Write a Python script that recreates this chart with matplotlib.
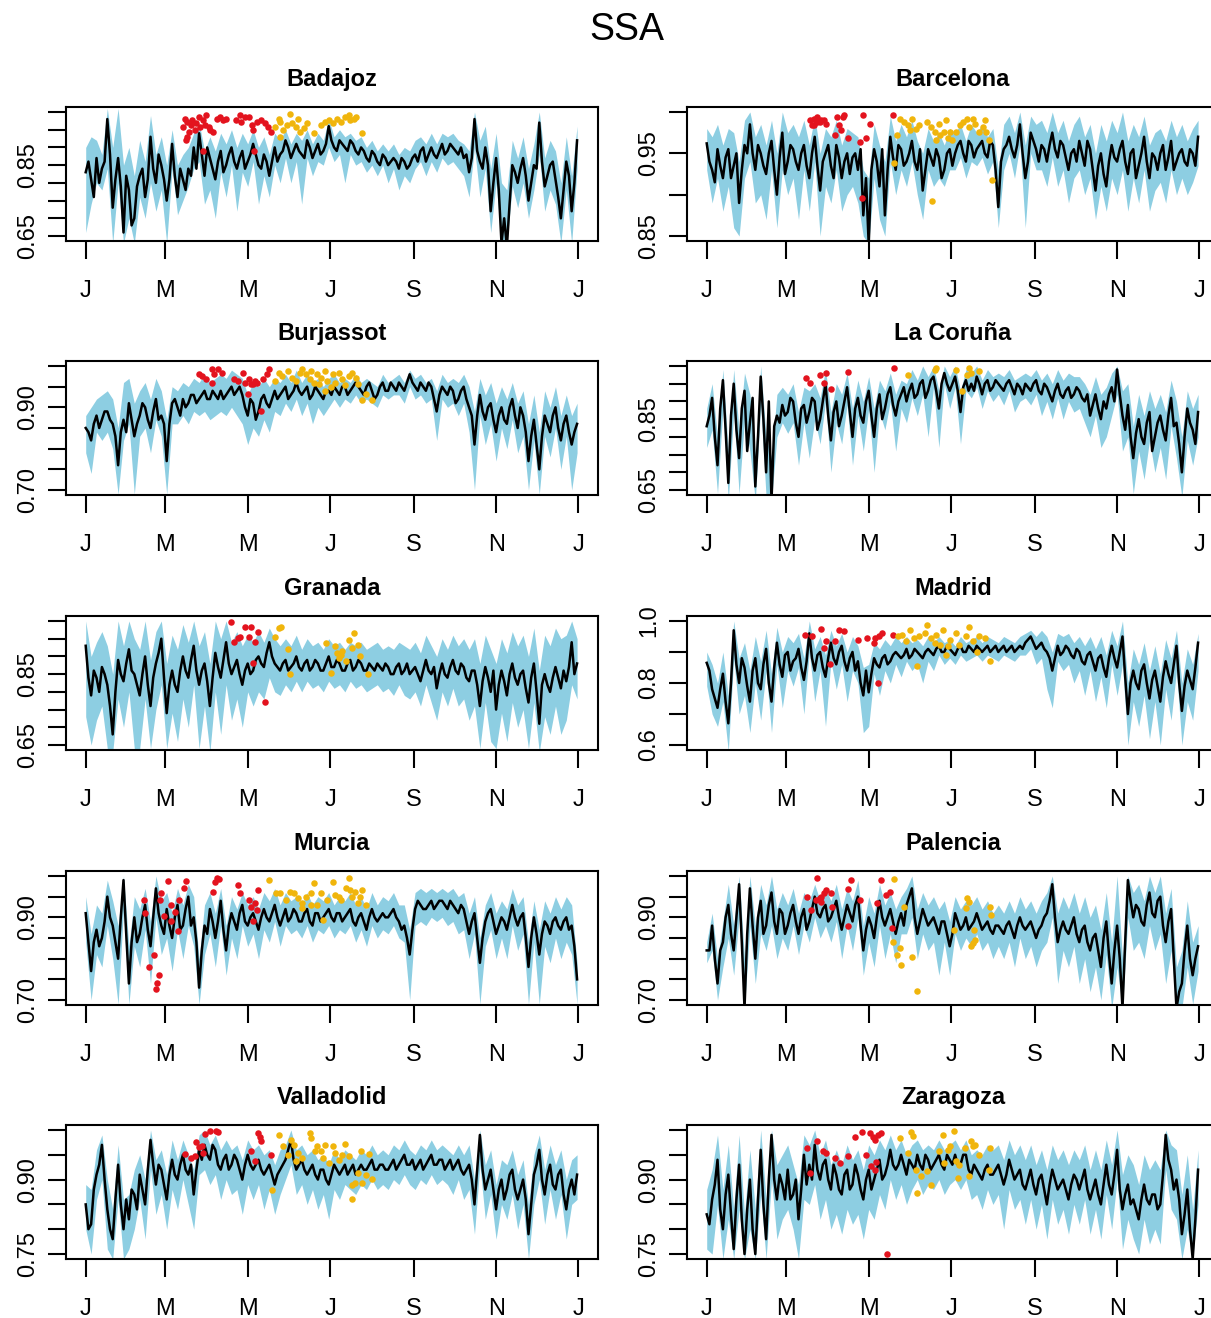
import matplotlib
matplotlib.use("Agg")
import matplotlib.pyplot as plt

plt.rcParams["font.family"] = ["Liberation Sans", "DejaVu Sans"]

# Sample days: the band and the main line points every fourth day,
# with the line also sampled on the days in between
DAY = list(range(1, 366, 4))
DAY_MID = list(range(3, 364, 4))
MONTH_TICKS = [1, 60, 121, 182, 244, 305, 366]
MONTH_LABELS = ["J", "M", "M", "J", "S", "N", "J"]

BAND_COLOR = "#8DCEE2"
RED = "#E3131E"
ORANGE = "#F0B50C"

# ---------------- Badajoz ----------------
BADAJOZ_MEAN = [
    0.83, 0.81, 0.87, 0.84, 0.98, 0.73, 0.87, 0.66,
    0.78, 0.70, 0.82, 0.76, 0.93, 0.80, 0.85, 0.75,
    0.91, 0.76, 0.81, 0.84, 0.90, 0.94, 0.82, 0.87,
    0.81, 0.89, 0.85, 0.90, 0.84, 0.89, 0.86, 0.91,
    0.85, 0.88, 0.82, 0.90, 0.88, 0.92, 0.87, 0.91,
    0.88, 0.92, 0.87, 0.91, 0.89, 0.96, 0.90, 0.92,
    0.90, 0.92, 0.89, 0.90, 0.87, 0.89, 0.86, 0.88,
    0.85, 0.87, 0.84, 0.86, 0.85, 0.88, 0.89, 0.86,
    0.90, 0.87, 0.91, 0.89, 0.90, 0.88, 0.87, 0.83,
    0.98, 0.86, 0.90, 0.72, 0.87, 0.63, 0.62, 0.85,
    0.80, 0.87, 0.75, 0.85, 0.97, 0.79, 0.85, 0.81,
    0.70, 0.86, 0.72, 0.92]
BADAJOZ_MEAN_MID = [
    0.86, 0.76, 0.80, 0.86, 0.88, 0.81, 0.79, 0.82,
    0.68, 0.79, 0.84, 0.81, 0.84, 0.88, 0.81, 0.81,
    0.82, 0.84, 0.78, 0.82, 0.84, 0.88, 0.90, 0.84,
    0.86, 0.83, 0.88, 0.86, 0.87, 0.84, 0.88, 0.88,
    0.84, 0.86, 0.86, 0.86, 0.89, 0.90, 0.89, 0.89,
    0.87, 0.90, 0.89, 0.88, 0.91, 0.92, 0.89, 0.91,
    0.89, 0.91, 0.88, 0.89, 0.86, 0.88, 0.85, 0.87,
    0.86, 0.86, 0.87, 0.84, 0.87, 0.86, 0.90, 0.88,
    0.88, 0.89, 0.88, 0.91, 0.89, 0.90, 0.88, 0.87,
    0.89, 0.84, 0.85, 0.80, 0.78, 0.70, 0.74, 0.83,
    0.84, 0.82, 0.80, 0.84, 0.86, 0.82, 0.86, 0.76,
    0.78, 0.82, 0.80]
BADAJOZ_LO = [
    0.66, 0.74, 0.80, 0.78, 0.84, 0.63, 0.80, 0.63,
    0.70, 0.63, 0.76, 0.70, 0.80, 0.72, 0.78, 0.63,
    0.84, 0.71, 0.75, 0.79, 0.84, 0.86, 0.74, 0.78,
    0.70, 0.83, 0.76, 0.85, 0.72, 0.83, 0.79, 0.86,
    0.74, 0.82, 0.76, 0.85, 0.80, 0.87, 0.80, 0.86,
    0.74, 0.87, 0.82, 0.86, 0.85, 0.90, 0.86, 0.88,
    0.80, 0.88, 0.85, 0.86, 0.83, 0.85, 0.82, 0.85,
    0.80, 0.84, 0.78, 0.82, 0.80, 0.84, 0.86, 0.82,
    0.86, 0.83, 0.87, 0.85, 0.86, 0.84, 0.82, 0.76,
    0.90, 0.76, 0.84, 0.66, 0.80, 0.63, 0.63, 0.79,
    0.73, 0.80, 0.70, 0.78, 0.88, 0.72, 0.78, 0.74,
    0.63, 0.78, 0.63, 0.84]
BADAJOZ_HI = [
    0.90, 0.93, 0.92, 0.88, 1.01, 0.90, 1.01, 0.85,
    0.90, 0.82, 0.92, 0.86, 0.99, 0.88, 0.93, 0.85,
    0.95, 0.85, 0.88, 0.90, 0.94, 0.97, 0.89, 0.93,
    0.89, 0.94, 0.91, 0.95, 0.90, 0.94, 0.91, 0.95,
    0.90, 0.93, 0.88, 0.94, 0.92, 0.95, 0.91, 0.94,
    0.92, 0.95, 0.91, 0.94, 0.92, 0.98, 0.93, 0.95,
    0.93, 0.94, 0.92, 0.93, 0.90, 0.92, 0.89, 0.91,
    0.89, 0.91, 0.88, 0.90, 0.89, 0.92, 0.93, 0.91,
    0.94, 0.91, 0.94, 0.93, 0.94, 0.92, 0.91, 0.89,
    1.00, 0.92, 0.96, 0.84, 0.94, 0.80, 0.78, 0.92,
    0.87, 0.93, 0.84, 0.91, 1.00, 0.87, 0.92, 0.89,
    0.80, 0.93, 0.82, 0.96]
BADAJOZ_RED = [
    (73, 0.958), (74.6, 0.981), (76, 0.972), (75.4, 0.92), (77.5, 0.944),
    (79, 0.963), (80, 0.977), (82, 0.949), (83, 0.968), (85, 0.986),
    (86, 0.958), (87.6, 0.977), (89, 0.963), (90, 0.991), (92, 0.958),
    (93, 0.949), (95, 0.944), (98, 0.981), (100.5, 0.986), (103, 0.977),
    (105, 0.979), (112, 0.977), (115, 0.991), (116, 0.972), (119, 0.986),
    (122, 0.986), (124, 0.963), (125, 0.949), (128, 0.972), (131, 0.977),
    (134, 0.968), (136, 0.958), (138, 0.944), (88, 0.89), (76, 0.93),
    (126, 0.89)]
BADAJOZ_ORANGE = [
    (141, 0.958), (144, 0.981), (145, 0.972), (147, 0.949), (150, 0.963),
    (152.5, 0.995), (154, 0.968), (157, 0.958), (158, 0.981), (160, 0.944),
    (163, 0.954), (165, 0.968), (145, 0.93), (175.5, 0.963), (178, 0.972),
    (181, 0.977), (184, 0.968), (187, 0.981), (190, 0.972), (193, 0.986),
    (196, 0.991), (197, 0.977), (200, 0.981), (201.5, 0.986), (206, 0.94),
    (170, 0.94)]

# ---------------- Barcelona ----------------
BARCELONA_MEAN = [
    0.962, 0.93, 0.955, 0.92, 0.955, 0.935, 0.89, 0.96,
    0.985, 0.93, 0.95, 0.925, 0.965, 0.90, 0.975, 0.94,
    0.955, 0.93, 0.96, 0.92, 0.97, 0.905, 0.95, 0.935,
    0.96, 0.92, 0.95, 0.945, 0.93, 0.875, 0.84, 0.955,
    0.91, 0.875, 0.97, 0.93, 0.955, 0.94, 0.965, 0.93,
    0.905, 0.955, 0.935, 0.945, 0.93, 0.955, 0.95, 0.965,
    0.94, 0.96, 0.955, 0.965, 0.945, 0.96, 0.885, 0.955,
    0.97, 0.945, 0.985, 0.92, 0.975, 0.955, 0.96, 0.94,
    0.975, 0.945, 0.96, 0.93, 0.955, 0.965, 0.935, 0.955,
    0.905, 0.95, 0.91, 0.96, 0.94, 0.965, 0.925, 0.955,
    0.935, 0.97, 0.92, 0.945, 0.95, 0.93, 0.965, 0.94,
    0.955, 0.935, 0.95, 0.97]
BARCELONA_MEAN_MID = [
    0.94, 0.915, 0.935, 0.945, 0.92, 0.95, 0.93, 0.95,
    0.95, 0.96, 0.935, 0.95, 0.93, 0.945, 0.925, 0.96,
    0.94, 0.95, 0.935, 0.95, 0.935, 0.94, 0.96, 0.92,
    0.945, 0.94, 0.925, 0.95, 0.955, 0.92, 0.93, 0.94,
    0.955, 0.93, 0.945, 0.96, 0.935, 0.95, 0.94, 0.955,
    0.93, 0.945, 0.955, 0.92, 0.95, 0.935, 0.96, 0.95,
    0.965, 0.945, 0.96, 0.95, 0.965, 0.93, 0.94, 0.96,
    0.955, 0.96, 0.95, 0.94, 0.965, 0.94, 0.955, 0.96,
    0.955, 0.965, 0.945, 0.95, 0.94, 0.95, 0.965, 0.93,
    0.935, 0.925, 0.94, 0.945, 0.955, 0.94, 0.95, 0.92,
    0.95, 0.94, 0.95, 0.93, 0.96, 0.945, 0.93, 0.95,
    0.94, 0.955, 0.935]
BARCELONA_LO = [
    0.93, 0.89, 0.92, 0.88, 0.91, 0.86, 0.85, 0.92,
    0.94, 0.89, 0.90, 0.87, 0.93, 0.86, 0.93, 0.90,
    0.92, 0.87, 0.93, 0.88, 0.94, 0.85, 0.91, 0.89,
    0.93, 0.88, 0.90, 0.91, 0.89, 0.85, 0.84, 0.92,
    0.87, 0.85, 0.94, 0.90, 0.93, 0.91, 0.94, 0.90,
    0.87, 0.93, 0.91, 0.92, 0.91, 0.93, 0.93, 0.945,
    0.92, 0.94, 0.935, 0.945, 0.925, 0.94, 0.86, 0.93,
    0.95, 0.92, 0.96, 0.86, 0.95, 0.93, 0.93, 0.91,
    0.945, 0.91, 0.93, 0.89, 0.92, 0.93, 0.90, 0.92,
    0.87, 0.91, 0.88, 0.92, 0.90, 0.93, 0.88, 0.92,
    0.89, 0.93, 0.88, 0.905, 0.915, 0.89, 0.93, 0.90,
    0.92, 0.90, 0.915, 0.935]
BARCELONA_HI = [
    0.98, 0.97, 0.985, 0.96, 0.98, 0.975, 0.94, 0.99,
    1.0, 0.97, 0.985, 0.96, 0.99, 0.95, 1.0, 0.975,
    0.985, 0.97, 0.99, 0.96, 0.995, 0.95, 0.98, 0.97,
    0.99, 0.96, 0.98, 0.975, 0.97, 0.93, 0.92, 0.985,
    0.96, 0.94, 0.995, 0.965, 0.985, 0.97, 0.99, 0.965,
    0.95, 0.98, 0.965, 0.975, 0.96, 0.98, 0.975, 0.985,
    0.965, 0.985, 0.975, 0.985, 0.97, 0.98, 0.93, 0.985,
    0.995, 0.975, 1.0, 0.96, 0.995, 0.985, 0.99, 0.975,
    1.0, 0.975, 0.99, 0.965, 0.985, 0.995, 0.97, 0.985,
    0.95, 0.985, 0.965, 0.99, 0.975, 1.0, 0.965, 0.985,
    0.97, 0.995, 0.96, 0.975, 0.98, 0.965, 0.99, 0.97,
    0.985, 0.965, 0.98, 0.99]
BARCELONA_RED = [
    (77.7, 0.99), (79, 0.984), (80.5, 0.992), (83, 0.994), (85, 0.988),
    (87.6, 0.99), (89, 0.986), (80.5, 0.984), (96, 0.972), (97.6, 0.994),
    (99, 0.984), (100.4, 0.978), (101.8, 0.994), (103, 0.996), (106, 0.968),
    (114.6, 0.964), (116, 0.896), (117, 0.996), (119, 0.968), (121.7, 0.986),
    (138.7, 0.996), (83, 0.988), (86, 0.99)]
BARCELONA_ORANGE = [
    (141.6, 0.972), (144.4, 0.992), (147, 0.988), (150, 0.984), (151.5, 0.978),
    (153, 0.992), (155.8, 0.98), (158.6, 0.984), (164, 0.988), (167, 0.982),
    (170, 0.976), (172.8, 0.986), (174, 0.972), (177, 0.976), (178.5, 0.99),
    (180, 0.968), (181, 0.976), (183, 0.966), (185.6, 0.976), (188.4, 0.984),
    (191, 0.988), (194, 0.992), (195.5, 0.982), (198, 0.992), (199.8, 0.986),
    (202.6, 0.976), (205.5, 0.982), (207, 0.99), (208, 0.976), (210, 0.966),
    (168, 0.892), (212.6, 0.918), (171, 0.966), (140, 0.938)]

# ---------------- Burjassot ----------------
BURJASSOT_MEAN = [
    0.85, 0.82, 0.88, 0.87, 0.89, 0.86, 0.76, 0.87,
    0.91, 0.83, 0.88, 0.90, 0.85, 0.92, 0.88, 0.77,
    0.91, 0.90, 0.92, 0.91, 0.93, 0.92, 0.94, 0.92,
    0.93, 0.94, 0.93, 0.95, 0.94, 0.93, 0.88, 0.91,
    0.89, 0.93, 0.90, 0.94, 0.93, 0.95, 0.93, 0.96,
    0.93, 0.95, 0.93, 0.94, 0.92, 0.94, 0.95, 0.93,
    0.95, 0.94, 0.96, 0.94, 0.95, 0.94, 0.93, 0.96,
    0.94, 0.95, 0.96, 0.94, 0.98, 0.95, 0.96, 0.94,
    0.95, 0.89, 0.95, 0.93, 0.94, 0.92, 0.95, 0.90,
    0.81, 0.93, 0.87, 0.91, 0.84, 0.90, 0.86, 0.92,
    0.85, 0.88, 0.77, 0.87, 0.75, 0.88, 0.84, 0.90,
    0.82, 0.88, 0.81, 0.86]
BURJASSOT_MEAN_MID = [
    0.84, 0.86, 0.85, 0.89, 0.87, 0.83, 0.84, 0.84,
    0.87, 0.86, 0.91, 0.87, 0.89, 0.87, 0.86, 0.86,
    0.92, 0.88, 0.90, 0.93, 0.91, 0.93, 0.92, 0.94,
    0.92, 0.92, 0.94, 0.93, 0.95, 0.90, 0.92, 0.87,
    0.92, 0.91, 0.92, 0.92, 0.94, 0.92, 0.94, 0.94,
    0.94, 0.92, 0.95, 0.93, 0.94, 0.93, 0.94, 0.95,
    0.93, 0.95, 0.95, 0.93, 0.96, 0.92, 0.95, 0.94,
    0.96, 0.94, 0.95, 0.96, 0.96, 0.94, 0.95, 0.96,
    0.92, 0.93, 0.94, 0.95, 0.91, 0.94, 0.92, 0.88,
    0.88, 0.89, 0.90, 0.87, 0.88, 0.87, 0.90, 0.88,
    0.90, 0.84, 0.83, 0.81, 0.83, 0.86, 0.88, 0.85,
    0.86, 0.84, 0.84]
BURJASSOT_LO = [
    0.79, 0.74, 0.84, 0.82, 0.84, 0.80, 0.69, 0.82,
    0.86, 0.69, 0.83, 0.85, 0.79, 0.87, 0.83, 0.69,
    0.86, 0.86, 0.88, 0.86, 0.89, 0.88, 0.89, 0.87,
    0.88, 0.89, 0.88, 0.90, 0.88, 0.86, 0.81, 0.85,
    0.83, 0.87, 0.84, 0.89, 0.88, 0.91, 0.89, 0.92,
    0.88, 0.91, 0.86, 0.90, 0.88, 0.90, 0.92, 0.90,
    0.92, 0.91, 0.93, 0.91, 0.92, 0.91, 0.90, 0.93,
    0.92, 0.93, 0.93, 0.91, 0.95, 0.92, 0.93, 0.91,
    0.92, 0.82, 0.92, 0.90, 0.91, 0.88, 0.91, 0.84,
    0.70, 0.88, 0.81, 0.86, 0.77, 0.85, 0.80, 0.87,
    0.79, 0.83, 0.70, 0.82, 0.69, 0.83, 0.78, 0.85,
    0.75, 0.83, 0.70, 0.79]
BURJASSOT_HI = [
    0.88, 0.90, 0.92, 0.93, 0.94, 0.92, 0.85, 0.96,
    0.97, 0.91, 0.94, 0.96, 0.92, 0.97, 0.94, 0.87,
    0.95, 0.94, 0.96, 0.95, 0.97, 0.96, 0.98, 0.96,
    0.97, 0.98, 0.97, 0.99, 0.98, 0.97, 0.93, 0.96,
    0.95, 0.97, 0.95, 0.97, 0.96, 0.98, 0.96, 0.99,
    0.96, 0.98, 0.96, 0.97, 0.95, 0.97, 0.98, 0.96,
    0.97, 0.96, 0.98, 0.96, 0.97, 0.96, 0.95, 0.98,
    0.96, 0.97, 0.98, 0.96, 0.99, 0.97, 0.98, 0.96,
    0.97, 0.94, 0.98, 0.96, 0.97, 0.96, 0.98, 0.95,
    0.89, 0.97, 0.93, 0.96, 0.91, 0.95, 0.92, 0.96,
    0.91, 0.94, 0.86, 0.93, 0.84, 0.94, 0.90, 0.95,
    0.88, 0.93, 0.88, 0.91]
BURJASSOT_RED = [
    (84.7, 0.98), (87.5, 0.976), (90.4, 0.968), (94.8, 0.992), (96, 0.98),
    (99, 0.992), (102, 0.984), (94.8, 0.96), (110.6, 0.968), (113.5, 0.964),
    (117.8, 0.984), (119, 0.96), (122, 0.968), (123.6, 0.957), (126.5, 0.964),
    (128, 0.96), (131, 0.89), (132, 0.968), (135, 0.98), (136.6, 0.992),
    (121, 0.933), (125, 0.957)]
BURJASSOT_ORANGE = [
    (141, 0.964), (144, 0.984), (146.7, 0.976), (151, 0.988), (154, 0.972),
    (157, 0.964), (160, 0.984), (161, 0.992), (164, 0.98), (167, 0.968),
    (168, 0.988), (170, 0.96), (172.7, 0.98), (174, 0.957), (175.5, 0.972),
    (178, 0.988), (180, 0.964), (183, 0.949), (184, 0.98), (185.6, 0.96),
    (188.5, 0.984), (191, 0.968), (193, 0.953), (196, 0.976), (198.6, 0.984),
    (201.5, 0.972), (203, 0.957), (206, 0.917), (209, 0.933), (213, 0.917),
    (178, 0.94)]

# ---------------- La Coruña ----------------
CORUNA_MEAN = [
    0.83, 0.91, 0.72, 0.96, 0.67, 0.95, 0.74, 0.93,
    0.84, 0.66, 0.97, 0.70, 0.62, 0.86, 0.89, 0.87,
    0.90, 0.80, 0.89, 0.87, 0.90, 0.85, 0.95, 0.79,
    0.90, 0.86, 0.94, 0.80, 0.91, 0.84, 0.93, 0.80,
    0.92, 0.88, 0.94, 0.86, 0.92, 0.90, 0.95, 0.92,
    0.96, 0.93, 0.97, 0.88, 0.98, 0.93, 0.97, 0.87,
    0.96, 0.95, 0.97, 0.92, 0.96, 0.94, 0.95, 0.93,
    0.96, 0.92, 0.94, 0.95, 0.93, 0.96, 0.92, 0.94,
    0.90, 0.95, 0.91, 0.94, 0.92, 0.93, 0.90, 0.86,
    0.92, 0.85, 0.88, 0.94, 0.99, 0.86, 0.89, 0.74,
    0.85, 0.78, 0.87, 0.80, 0.86, 0.79, 0.91, 0.84,
    0.70, 0.88, 0.82, 0.87]
CORUNA_MEAN_MID = [
    0.86, 0.80, 0.88, 0.82, 0.86, 0.82, 0.88, 0.76,
    0.91, 0.80, 0.85, 0.90, 0.83, 0.84, 0.86, 0.91,
    0.84, 0.88, 0.84, 0.91, 0.82, 0.90, 0.86, 0.87,
    0.83, 0.90, 0.87, 0.88, 0.86, 0.90, 0.86, 0.88,
    0.85, 0.92, 0.89, 0.90, 0.94, 0.93, 0.91, 0.95,
    0.91, 0.96, 0.93, 0.95, 0.95, 0.95, 0.93, 0.94,
    0.93, 0.93, 0.95, 0.95, 0.93, 0.96, 0.94, 0.95,
    0.94, 0.95, 0.92, 0.94, 0.95, 0.93, 0.95, 0.92,
    0.93, 0.92, 0.93, 0.91, 0.94, 0.91, 0.92, 0.89,
    0.88, 0.90, 0.92, 0.90, 0.92, 0.82, 0.80, 0.81,
    0.80, 0.84, 0.76, 0.84, 0.82, 0.86, 0.83, 0.78,
    0.80, 0.84, 0.78]
CORUNA_LO = [
    0.77, 0.82, 0.64, 0.88, 0.62, 0.87, 0.64, 0.85,
    0.76, 0.62, 0.89, 0.63, 0.62, 0.80, 0.84, 0.81,
    0.84, 0.72, 0.84, 0.74, 0.85, 0.78, 0.90, 0.70,
    0.84, 0.78, 0.89, 0.72, 0.86, 0.76, 0.88, 0.70,
    0.87, 0.82, 0.90, 0.76, 0.88, 0.84, 0.91, 0.86,
    0.92, 0.80, 0.94, 0.77, 0.95, 0.88, 0.94, 0.78,
    0.93, 0.91, 0.94, 0.88, 0.93, 0.90, 0.92, 0.89,
    0.93, 0.87, 0.90, 0.91, 0.89, 0.92, 0.86, 0.90,
    0.85, 0.91, 0.85, 0.90, 0.87, 0.88, 0.84, 0.80,
    0.86, 0.77, 0.80, 0.86, 0.92, 0.76, 0.80, 0.64,
    0.76, 0.68, 0.79, 0.70, 0.77, 0.68, 0.83, 0.74,
    0.63, 0.79, 0.72, 0.80]
CORUNA_HI = [
    0.88, 0.95, 0.80, 0.99, 0.76, 0.99, 0.82, 0.98,
    0.92, 0.75, 1.0, 0.80, 0.74, 0.92, 0.94, 0.92,
    0.95, 0.87, 0.94, 0.93, 0.95, 0.91, 0.99, 0.87,
    0.95, 0.92, 0.98, 0.88, 0.96, 0.90, 0.97, 0.88,
    0.96, 0.93, 0.98, 0.92, 0.96, 0.95, 0.99, 0.96,
    1.0, 0.97, 1.0, 0.93, 1.0, 0.97, 1.0, 0.93,
    0.99, 0.98, 1.0, 0.96, 0.99, 0.97, 0.98, 0.97,
    0.99, 0.96, 0.97, 0.98, 0.97, 0.99, 0.96, 0.98,
    0.95, 0.99, 0.96, 0.98, 0.97, 0.97, 0.95, 0.92,
    0.97, 0.92, 0.94, 0.98, 1.0, 0.93, 0.95, 0.83,
    0.92, 0.86, 0.93, 0.88, 0.92, 0.87, 0.96, 0.90,
    0.80, 0.93, 0.88, 0.92]
CORUNA_RED = [
    (74.8, 0.966), (84.8, 0.975), (89, 0.98), (88, 0.952), (93, 0.935),
    (106, 0.982), (139.6, 0.994), (77.7, 0.952)]
CORUNA_ORANGE = [
    (150, 0.975), (170, 0.989), (171, 0.994), (185.6, 0.989), (190, 0.93),
    (195.5, 0.994), (197, 0.98), (202.6, 0.987), (194, 0.975)]

# ---------------- Granada ----------------
GRANADA_MEAN = [
    0.93, 0.79, 0.84, 0.87, 0.82, 0.68, 0.89, 0.83,
    0.92, 0.85, 0.79, 0.90, 0.76, 0.88, 0.95, 0.74,
    0.86, 0.80, 0.90, 0.84, 0.93, 0.82, 0.88, 0.76,
    0.91, 0.84, 0.94, 0.85, 0.89, 0.82, 0.88, 0.86,
    0.90, 0.87, 0.94, 0.88, 0.86, 0.89, 0.87, 0.90,
    0.86, 0.89, 0.87, 0.88, 0.86, 0.90, 0.87, 0.88,
    0.86, 0.89, 0.87, 0.88, 0.86, 0.87, 0.88, 0.86,
    0.87, 0.85, 0.88, 0.86, 0.85, 0.87, 0.83, 0.89,
    0.85, 0.81, 0.88, 0.84, 0.89, 0.85, 0.87, 0.83,
    0.86, 0.76, 0.87, 0.80, 0.75, 0.86, 0.79, 0.88,
    0.82, 0.86, 0.77, 0.88, 0.71, 0.85, 0.80, 0.87,
    0.81, 0.83, 0.94, 0.88]
GRANADA_MEAN_MID = [
    0.84, 0.86, 0.80, 0.85, 0.76, 0.80, 0.85, 0.88,
    0.86, 0.82, 0.85, 0.82, 0.84, 0.91, 0.84, 0.82,
    0.82, 0.86, 0.86, 0.89, 0.86, 0.86, 0.83, 0.84,
    0.87, 0.89, 0.88, 0.87, 0.85, 0.86, 0.85, 0.89,
    0.88, 0.91, 0.90, 0.87, 0.88, 0.86, 0.88, 0.87,
    0.88, 0.86, 0.89, 0.86, 0.88, 0.87, 0.89, 0.86,
    0.88, 0.86, 0.89, 0.86, 0.88, 0.86, 0.87, 0.88,
    0.85, 0.87, 0.85, 0.88, 0.86, 0.85, 0.86, 0.86,
    0.87, 0.85, 0.85, 0.87, 0.86, 0.88, 0.84, 0.86,
    0.82, 0.83, 0.84, 0.86, 0.82, 0.83, 0.85, 0.84,
    0.85, 0.81, 0.84, 0.80, 0.82, 0.82, 0.84, 0.84,
    0.86, 0.87, 0.85]
GRANADA_LO = [
    0.73, 0.65, 0.72, 0.76, 0.64, 0.63, 0.78, 0.70,
    0.80, 0.64, 0.64, 0.78, 0.64, 0.75, 0.82, 0.64,
    0.74, 0.66, 0.78, 0.70, 0.82, 0.64, 0.76, 0.63,
    0.80, 0.68, 0.82, 0.72, 0.78, 0.70, 0.80, 0.76,
    0.80, 0.78, 0.84, 0.80, 0.79, 0.82, 0.80, 0.83,
    0.80, 0.83, 0.81, 0.82, 0.80, 0.83, 0.81, 0.82,
    0.80, 0.83, 0.81, 0.82, 0.80, 0.81, 0.82, 0.80,
    0.81, 0.79, 0.82, 0.79, 0.78, 0.80, 0.76, 0.82,
    0.77, 0.72, 0.80, 0.76, 0.81, 0.76, 0.78, 0.72,
    0.76, 0.64, 0.77, 0.66, 0.64, 0.74, 0.66, 0.77,
    0.70, 0.75, 0.64, 0.77, 0.63, 0.73, 0.68, 0.76,
    0.68, 0.72, 0.82, 0.78]
GRANADA_HI = [
    1.0, 0.90, 0.94, 0.97, 0.93, 0.85, 1.0, 0.93,
    1.0, 0.95, 0.92, 1.0, 0.89, 0.97, 1.0, 0.88,
    0.96, 0.92, 0.99, 0.94, 1.0, 0.93, 0.97, 0.88,
    1.0, 0.95, 1.0, 0.94, 0.97, 0.93, 0.96, 0.94,
    0.97, 0.94, 0.98, 0.95, 0.93, 0.95, 0.93, 0.96,
    0.92, 0.95, 0.93, 0.94, 0.92, 0.95, 0.93, 0.94,
    0.92, 0.94, 0.93, 0.94, 0.92, 0.93, 0.94, 0.92,
    0.93, 0.92, 0.94, 0.93, 0.92, 0.94, 0.91, 0.96,
    0.93, 0.90, 0.95, 0.92, 0.96, 0.93, 0.95, 0.92,
    0.95, 0.88, 0.96, 0.92, 0.88, 0.95, 0.91, 0.97,
    0.93, 0.96, 0.90, 0.98, 0.86, 0.96, 0.93, 0.98,
    0.95, 0.96, 1.0, 0.95]
GRANADA_RED = [
    (109, 0.996), (113.5, 0.952), (115, 0.956), (119, 0.984), (123.6, 0.984),
    (122, 0.956), (126.5, 0.942), (129, 0.97), (125, 0.882), (134, 0.77),
    (110.6, 0.942)]
GRANADA_ORANGE = [
    (141, 0.956), (144, 0.98), (146, 0.982), (152.5, 0.85), (151, 0.92),
    (179, 0.938), (185.6, 0.928), (187, 0.91), (188.5, 0.896), (191, 0.915),
    (194, 0.887), (196, 0.947), (200, 0.967), (203, 0.933), (204, 0.90),
    (210, 0.85), (183, 0.854), (190, 0.905), (198.6, 0.924)]

# ---------------- Madrid ----------------
MADRID_MEAN = [
    0.865, 0.78, 0.72, 0.83, 0.67, 0.97, 0.80, 0.85,
    0.74, 0.88, 0.78, 0.91, 0.74, 0.93, 0.82, 0.90,
    0.87, 0.91, 0.81, 0.96, 0.84, 0.90, 0.82, 0.93,
    0.86, 0.92, 0.84, 0.90, 0.87, 0.76, 0.77, 0.88,
    0.85, 0.89, 0.87, 0.90, 0.88, 0.91, 0.89, 0.90,
    0.88, 0.91, 0.89, 0.92, 0.90, 0.91, 0.89, 0.92,
    0.90, 0.91, 0.92, 0.90, 0.92, 0.91, 0.90, 0.92,
    0.91, 0.90, 0.92, 0.93, 0.95, 0.91, 0.93, 0.90,
    0.84, 0.92, 0.90, 0.91, 0.88, 0.90, 0.86, 0.90,
    0.84, 0.89, 0.82, 0.92, 0.85, 0.95, 0.70, 0.84,
    0.78, 0.86, 0.75, 0.84, 0.74, 0.87, 0.80, 0.92,
    0.71, 0.84, 0.78, 0.93]
MADRID_MEAN_MID = [
    0.84, 0.75, 0.78, 0.74, 0.80, 0.86, 0.88, 0.79,
    0.84, 0.80, 0.86, 0.80, 0.85, 0.86, 0.89, 0.84,
    0.88, 0.85, 0.87, 0.88, 0.89, 0.85, 0.88, 0.88,
    0.90, 0.87, 0.88, 0.84, 0.80, 0.84, 0.83, 0.86,
    0.88, 0.86, 0.89, 0.89, 0.89, 0.88, 0.91, 0.89,
    0.90, 0.90, 0.91, 0.90, 0.92, 0.90, 0.91, 0.90,
    0.92, 0.90, 0.91, 0.91, 0.90, 0.92, 0.91, 0.90,
    0.92, 0.91, 0.91, 0.94, 0.93, 0.92, 0.91, 0.88,
    0.88, 0.89, 0.92, 0.89, 0.91, 0.87, 0.89, 0.87,
    0.88, 0.85, 0.88, 0.88, 0.90, 0.82, 0.80, 0.80,
    0.84, 0.80, 0.81, 0.79, 0.82, 0.83, 0.86, 0.80,
    0.79, 0.81, 0.85]
MADRID_LO = [
    0.79, 0.70, 0.66, 0.74, 0.58, 0.88, 0.70, 0.76,
    0.64, 0.80, 0.68, 0.84, 0.64, 0.86, 0.72, 0.84,
    0.79, 0.85, 0.70, 0.90, 0.74, 0.84, 0.66, 0.87,
    0.78, 0.86, 0.74, 0.84, 0.80, 0.64, 0.66, 0.83,
    0.76, 0.84, 0.80, 0.86, 0.82, 0.87, 0.84, 0.86,
    0.80, 0.87, 0.84, 0.89, 0.86, 0.88, 0.86, 0.89,
    0.87, 0.88, 0.89, 0.87, 0.89, 0.88, 0.87, 0.89,
    0.88, 0.87, 0.89, 0.89, 0.91, 0.86, 0.88, 0.78,
    0.72, 0.87, 0.84, 0.86, 0.80, 0.84, 0.76, 0.84,
    0.74, 0.82, 0.72, 0.86, 0.76, 0.86, 0.60, 0.74,
    0.66, 0.76, 0.62, 0.74, 0.60, 0.78, 0.68, 0.84,
    0.60, 0.74, 0.68, 0.84]
MADRID_HI = [
    0.90, 0.86, 0.80, 0.90, 0.76, 1.0, 0.88, 0.93,
    0.84, 0.95, 0.87, 0.97, 0.83, 0.98, 0.90, 0.95,
    0.93, 0.96, 0.88, 1.0, 0.91, 0.95, 0.89, 0.97,
    0.92, 0.96, 0.90, 0.95, 0.92, 0.85, 0.86, 0.93,
    0.91, 0.94, 0.92, 0.95, 0.93, 0.95, 0.93, 0.94,
    0.92, 0.95, 0.93, 0.95, 0.93, 0.94, 0.92, 0.95,
    0.93, 0.94, 0.95, 0.93, 0.95, 0.94, 0.93, 0.95,
    0.94, 0.93, 0.95, 0.96, 0.97, 0.95, 0.97, 0.95,
    0.90, 0.96, 0.95, 0.96, 0.93, 0.95, 0.92, 0.95,
    0.91, 0.95, 0.89, 0.97, 0.92, 1.0, 0.80, 0.91,
    0.86, 0.93, 0.84, 0.92, 0.83, 0.94, 0.88, 0.97,
    0.80, 0.91, 0.86, 0.96]
MADRID_RED = [
    (74, 0.955), (79, 0.95), (85.6, 0.973), (87.6, 0.913), (89, 0.934),
    (92, 0.86), (99, 0.971), (103, 0.968), (113, 0.939), (120, 0.945),
    (125, 0.929), (126, 0.945), (128, 0.80), (131, 0.96), (139, 0.955),
    (129, 0.953), (96, 0.934)]
MADRID_ORANGE = [
    (143, 0.95), (146, 0.955), (148.7, 0.934), (151.5, 0.971), (154.4, 0.945),
    (157, 0.854), (158.6, 0.95), (163, 0.96), (164, 0.987), (167, 0.945),
    (170, 0.929), (174, 0.923), (176, 0.971), (178.5, 0.89), (181, 0.939),
    (185.6, 0.96), (188, 0.923), (193, 0.95), (195.5, 0.982), (198, 0.934),
    (201, 0.90), (202.6, 0.95), (207, 0.945), (210.6, 0.87), (180, 0.918),
    (171, 0.955)]

# ---------------- Murcia ----------------
MURCIA_MEAN = [
    0.91, 0.77, 0.87, 0.85, 0.95, 0.88, 0.80, 0.99,
    0.74, 0.90, 0.86, 0.93, 0.83, 0.97, 0.88, 0.92,
    0.85, 0.93, 0.88, 0.95, 0.90, 0.73, 0.88, 0.92,
    0.85, 0.94, 0.82, 0.91, 0.87, 0.93, 0.88, 0.91,
    0.87, 0.92, 0.89, 0.93, 0.88, 0.92, 0.90, 0.91,
    0.89, 0.92, 0.88, 0.91, 0.90, 0.92, 0.89, 0.91,
    0.90, 0.92, 0.88, 0.91, 0.87, 0.92, 0.89, 0.91,
    0.90, 0.92, 0.89, 0.88, 0.81, 0.92, 0.93, 0.92,
    0.94, 0.93, 0.94, 0.92, 0.93, 0.91, 0.92, 0.86,
    0.91, 0.79, 0.89, 0.92, 0.86, 0.90, 0.87, 0.93,
    0.88, 0.91, 0.78, 0.90, 0.81, 0.89, 0.86, 0.90,
    0.87, 0.90, 0.88, 0.75]
MURCIA_MEAN_MID = [
    0.84, 0.84, 0.83, 0.89, 0.90, 0.84, 0.90, 0.86,
    0.84, 0.84, 0.90, 0.87, 0.90, 0.91, 0.86, 0.88,
    0.90, 0.87, 0.92, 0.88, 0.84, 0.82, 0.86, 0.89,
    0.89, 0.87, 0.88, 0.89, 0.91, 0.89, 0.90, 0.89,
    0.90, 0.90, 0.91, 0.90, 0.90, 0.89, 0.92, 0.89,
    0.91, 0.89, 0.91, 0.89, 0.91, 0.90, 0.91, 0.89,
    0.91, 0.89, 0.90, 0.89, 0.90, 0.90, 0.90, 0.90,
    0.91, 0.90, 0.87, 0.85, 0.87, 0.94, 0.92, 0.93,
    0.92, 0.94, 0.93, 0.94, 0.92, 0.93, 0.89, 0.89,
    0.85, 0.85, 0.91, 0.89, 0.88, 0.89, 0.90, 0.90,
    0.90, 0.85, 0.85, 0.86, 0.86, 0.88, 0.89, 0.88,
    0.89, 0.87, 0.83]
MURCIA_LO = [
    0.84, 0.70, 0.81, 0.78, 0.88, 0.80, 0.69, 0.92,
    0.69, 0.83, 0.78, 0.87, 0.74, 0.90, 0.81, 0.85,
    0.77, 0.87, 0.80, 0.88, 0.83, 0.69, 0.81, 0.86,
    0.78, 0.88, 0.76, 0.85, 0.80, 0.88, 0.83, 0.86,
    0.80, 0.87, 0.84, 0.89, 0.83, 0.88, 0.86, 0.87,
    0.85, 0.88, 0.84, 0.87, 0.86, 0.88, 0.85, 0.87,
    0.86, 0.88, 0.84, 0.87, 0.83, 0.88, 0.85, 0.87,
    0.86, 0.88, 0.85, 0.84, 0.70, 0.88, 0.89, 0.88,
    0.90, 0.89, 0.90, 0.88, 0.89, 0.86, 0.87, 0.80,
    0.86, 0.69, 0.83, 0.87, 0.80, 0.85, 0.80, 0.88,
    0.82, 0.86, 0.69, 0.84, 0.69, 0.83, 0.79, 0.85,
    0.80, 0.84, 0.81, 0.69]
MURCIA_HI = [
    0.95, 0.86, 0.93, 0.91, 0.99, 0.94, 0.88, 1.0,
    0.83, 0.95, 0.92, 0.97, 0.89, 1.0, 0.94, 0.96,
    0.91, 0.97, 0.93, 0.98, 0.95, 0.80, 0.93, 0.96,
    0.91, 0.97, 0.88, 0.95, 0.92, 0.96, 0.93, 0.95,
    0.92, 0.96, 0.94, 0.97, 0.93, 0.96, 0.94, 0.95,
    0.93, 0.96, 0.93, 0.95, 0.94, 0.96, 0.93, 0.95,
    0.94, 0.96, 0.93, 0.95, 0.92, 0.96, 0.93, 0.95,
    0.94, 0.96, 0.93, 0.93, 0.87, 0.96, 0.97, 0.96,
    0.97, 0.96, 0.97, 0.96, 0.97, 0.95, 0.96, 0.91,
    0.95, 0.85, 0.93, 0.96, 0.91, 0.94, 0.92, 0.97,
    0.93, 0.95, 0.84, 0.94, 0.87, 0.94, 0.91, 0.95,
    0.92, 0.95, 0.93, 0.79]
MURCIA_RED = [
    (44, 0.942), (45, 0.91), (48, 0.78), (51.5, 0.81), (53, 0.726),
    (54, 0.742), (55, 0.76), (56, 0.942), (57, 0.958), (58.7, 0.902),
    (62, 0.989), (64, 0.93), (64.5, 0.89), (67, 0.914), (69, 0.866),
    (70, 0.942), (73.7, 0.97), (75, 0.989), (95.6, 0.962), (97, 0.986),
    (98.5, 0.996), (100, 0.992), (114, 0.978), (115.5, 0.96), (122, 0.942),
    (123.6, 0.925), (126.5, 0.934), (128.5, 0.965), (128, 0.918), (125, 0.89)]
MURCIA_ORANGE = [
    (136.6, 0.99), (142, 0.958), (145, 0.958), (149.6, 0.942), (152.5, 0.962),
    (155, 0.958), (158, 0.946), (161, 0.934), (164, 0.95), (168, 0.958),
    (169.8, 0.982), (172.7, 0.93), (175.5, 0.958), (177, 0.894), (180, 0.942),
    (184, 0.986), (185.6, 0.954), (188.5, 0.95), (190, 0.942), (194, 0.97),
    (196, 0.996), (197, 0.966), (198.6, 0.95), (200.6, 0.962), (203, 0.934),
    (204, 0.95), (206, 0.966), (208.7, 0.93), (168, 0.93), (161, 0.922)]

# ---------------- Palencia ----------------
PALENCIA_MEAN = [
    0.82, 0.88, 0.74, 0.84, 0.93, 0.82, 0.98, 0.68,
    0.97, 0.80, 0.94, 0.88, 0.96, 0.86, 0.91, 0.88,
    0.93, 0.86, 0.92, 0.89, 0.95, 0.90, 0.93, 0.90,
    0.94, 0.87, 0.93, 0.89, 0.95, 0.82, 0.90, 0.85,
    0.94, 0.88, 0.92, 0.86, 0.91, 0.93, 0.97, 0.86,
    0.92, 0.88, 0.90, 0.86, 0.89, 0.83, 0.91, 0.87,
    0.90, 0.88, 0.91, 0.87, 0.89, 0.86, 0.88, 0.86,
    0.89, 0.85, 0.90, 0.87, 0.89, 0.85, 0.88, 0.91,
    0.98, 0.84, 0.89, 0.86, 0.90, 0.84, 0.88, 0.82,
    0.86, 0.78, 0.89, 0.74, 0.88, 0.68, 0.99, 0.90,
    0.92, 0.88, 0.96, 0.90, 0.95, 0.84, 0.92, 0.68,
    0.74, 0.88, 0.76, 0.83]
PALENCIA_MEAN_MID = [
    0.82, 0.80, 0.82, 0.90, 0.86, 0.90, 0.84, 0.86,
    0.88, 0.90, 0.86, 0.93, 0.89, 0.92, 0.86, 0.91,
    0.89, 0.90, 0.87, 0.92, 0.91, 0.92, 0.89, 0.92,
    0.90, 0.90, 0.91, 0.93, 0.88, 0.87, 0.88, 0.90,
    0.90, 0.90, 0.89, 0.89, 0.88, 0.95, 0.90, 0.89,
    0.90, 0.89, 0.88, 0.89, 0.86, 0.86, 0.89, 0.88,
    0.87, 0.89, 0.89, 0.88, 0.87, 0.88, 0.87, 0.88,
    0.87, 0.88, 0.88, 0.88, 0.87, 0.87, 0.90, 0.94,
    0.90, 0.87, 0.87, 0.88, 0.86, 0.87, 0.84, 0.85,
    0.82, 0.85, 0.81, 0.82, 0.80, 0.84, 0.94, 0.93,
    0.89, 0.93, 0.91, 0.94, 0.88, 0.89, 0.80, 0.72,
    0.82, 0.80, 0.80]
PALENCIA_LO = [
    0.79, 0.82, 0.70, 0.78, 0.85, 0.76, 0.90, 0.68,
    0.88, 0.74, 0.86, 0.82, 0.88, 0.80, 0.85, 0.82,
    0.88, 0.81, 0.88, 0.84, 0.90, 0.85, 0.88, 0.84,
    0.89, 0.80, 0.88, 0.82, 0.90, 0.76, 0.84, 0.78,
    0.88, 0.80, 0.86, 0.79, 0.86, 0.86, 0.90, 0.80,
    0.86, 0.82, 0.84, 0.76, 0.84, 0.76, 0.86, 0.82,
    0.85, 0.83, 0.86, 0.82, 0.84, 0.80, 0.83, 0.80,
    0.84, 0.78, 0.85, 0.80, 0.83, 0.78, 0.82, 0.84,
    0.90, 0.74, 0.82, 0.78, 0.83, 0.74, 0.80, 0.72,
    0.78, 0.70, 0.81, 0.68, 0.78, 0.68, 0.90, 0.82,
    0.84, 0.80, 0.88, 0.82, 0.86, 0.74, 0.82, 0.68,
    0.68, 0.78, 0.69, 0.77]
PALENCIA_HI = [
    0.84, 0.91, 0.80, 0.89, 0.98, 0.88, 1.0, 0.80,
    1.0, 0.88, 0.98, 0.93, 1.0, 0.92, 0.96, 0.93,
    0.97, 0.91, 0.96, 0.94, 0.98, 0.94, 0.97, 0.94,
    0.98, 0.92, 0.97, 0.94, 0.99, 0.88, 0.95, 0.91,
    0.98, 0.93, 0.96, 0.92, 0.95, 0.97, 1.0, 0.92,
    0.96, 0.93, 0.95, 0.92, 0.94, 0.89, 0.95, 0.92,
    0.94, 0.93, 0.95, 0.92, 0.94, 0.91, 0.93, 0.91,
    0.94, 0.91, 0.95, 0.92, 0.94, 0.91, 0.94, 0.96,
    1.0, 0.91, 0.95, 0.92, 0.96, 0.91, 0.95, 0.90,
    0.93, 0.87, 0.96, 0.84, 1.0, 0.80, 1.0, 0.96,
    0.98, 0.94, 1.0, 0.96, 1.0, 0.91, 0.97, 0.78,
    0.82, 0.94, 0.84, 0.88]
PALENCIA_RED = [
    (75, 0.948), (78, 0.918), (83, 0.994), (82, 0.942), (85, 0.946),
    (86, 0.95), (88, 0.958), (89, 0.966), (93, 0.958), (94, 0.925),
    (85.6, 0.936), (105.5, 0.968), (105.5, 0.878), (108, 0.99), (114.6, 0.942),
    (130, 0.99), (134, 0.954), (137, 0.962), (138, 0.874), (127, 0.934)]
PALENCIA_ORANGE = [
    (140, 0.992), (139, 0.84), (144, 0.826), (141.6, 0.808), (145, 0.784),
    (153, 0.805), (157, 0.722), (147, 0.926), (193.6, 0.946), (195, 0.938),
    (193, 0.922), (197, 0.83), (198, 0.838), (200, 0.846), (199, 0.87),
    (211, 0.926), (211.7, 0.906), (184, 0.87)]

# ---------------- Valladolid ----------------
VALLADOLID_MEAN = [
    0.85, 0.81, 0.91, 0.97, 0.84, 0.78, 0.93, 0.80,
    0.82, 0.87, 0.91, 0.85, 0.98, 0.89, 0.92, 0.86,
    0.94, 0.90, 0.95, 0.91, 0.87, 0.96, 0.97, 0.94,
    0.96, 0.92, 0.95, 0.93, 0.94, 0.90, 0.95, 0.92,
    0.94, 0.91, 0.93, 0.89, 0.92, 0.94, 0.98, 0.92,
    0.94, 0.91, 0.93, 0.90, 0.92, 0.89, 0.93, 0.91,
    0.93, 0.92, 0.91, 0.93, 0.92, 0.94, 0.92, 0.93,
    0.92, 0.94, 0.93, 0.95, 0.93, 0.92, 0.94, 0.93,
    0.95, 0.93, 0.94, 0.93, 0.92, 0.94, 0.91, 0.93,
    0.85, 0.99, 0.88, 0.92, 0.84, 0.90, 0.88, 0.92,
    0.86, 0.90, 0.79, 0.91, 0.96, 0.87, 0.93, 0.88,
    0.92, 0.84, 0.90, 0.91]
VALLADOLID_MEAN_MID = [
    0.80, 0.88, 0.93, 0.90, 0.80, 0.86, 0.85, 0.86,
    0.88, 0.84, 0.88, 0.92, 0.93, 0.93, 0.89, 0.91,
    0.91, 0.93, 0.92, 0.93, 0.92, 0.94, 0.95, 0.97,
    0.93, 0.94, 0.92, 0.95, 0.92, 0.93, 0.93, 0.93,
    0.92, 0.92, 0.91, 0.91, 0.93, 0.96, 0.94, 0.93,
    0.92, 0.92, 0.91, 0.92, 0.90, 0.91, 0.92, 0.92,
    0.91, 0.93, 0.92, 0.92, 0.93, 0.92, 0.93, 0.92,
    0.93, 0.92, 0.94, 0.93, 0.94, 0.93, 0.92, 0.94,
    0.93, 0.94, 0.92, 0.94, 0.93, 0.92, 0.92, 0.90,
    0.92, 0.92, 0.90, 0.88, 0.88, 0.86, 0.91, 0.88,
    0.88, 0.86, 0.85, 0.93, 0.90, 0.91, 0.89, 0.91,
    0.87, 0.88, 0.87]
VALLADOLID_LO = [
    0.80, 0.75, 0.86, 0.90, 0.76, 0.74, 0.86, 0.74,
    0.76, 0.80, 0.86, 0.78, 0.92, 0.83, 0.87, 0.80,
    0.88, 0.84, 0.90, 0.85, 0.80, 0.91, 0.92, 0.89,
    0.91, 0.86, 0.90, 0.87, 0.88, 0.83, 0.89, 0.86,
    0.89, 0.84, 0.88, 0.83, 0.87, 0.90, 0.93, 0.87,
    0.89, 0.85, 0.88, 0.84, 0.87, 0.82, 0.88, 0.86,
    0.89, 0.88, 0.87, 0.89, 0.88, 0.90, 0.88, 0.89,
    0.88, 0.90, 0.89, 0.91, 0.89, 0.88, 0.90, 0.89,
    0.91, 0.89, 0.90, 0.89, 0.87, 0.90, 0.86, 0.88,
    0.79, 0.93, 0.82, 0.87, 0.78, 0.85, 0.82, 0.87,
    0.80, 0.85, 0.74, 0.85, 0.90, 0.81, 0.88, 0.82,
    0.87, 0.78, 0.85, 0.86]
VALLADOLID_HI = [
    0.89, 0.88, 0.96, 0.99, 0.90, 0.84, 0.97, 0.86,
    0.87, 0.92, 0.95, 0.90, 1.0, 0.94, 0.96, 0.91,
    0.98, 0.94, 0.98, 0.95, 0.92, 0.99, 1.0, 0.97,
    0.99, 0.96, 0.98, 0.96, 0.97, 0.94, 0.98, 0.96,
    0.97, 0.95, 0.96, 0.93, 0.96, 0.97, 1.0, 0.96,
    0.97, 0.95, 0.96, 0.94, 0.95, 0.93, 0.96, 0.94,
    0.96, 0.95, 0.94, 0.96, 0.95, 0.97, 0.95, 0.96,
    0.95, 0.97, 0.96, 0.98, 0.96, 0.95, 0.97, 0.96,
    0.98, 0.96, 0.97, 0.96, 0.95, 0.97, 0.95, 0.97,
    0.90, 1.0, 0.93, 0.96, 0.89, 0.94, 0.93, 0.96,
    0.91, 0.94, 0.85, 0.95, 0.99, 0.92, 0.97, 0.93,
    0.96, 0.90, 0.94, 0.95]
VALLADOLID_RED = [
    (74.6, 0.951), (79, 0.943), (82, 0.947), (83, 0.975), (84.7, 0.965),
    (87, 0.967), (89, 0.991), (93, 0.998), (97.6, 0.998), (99, 0.995),
    (123.6, 0.957), (126.5, 0.938), (128.5, 0.993), (130, 0.985), (131, 0.978),
    (138, 0.95), (87.6, 0.953)]
VALLADOLID_ORANGE = [
    (139, 0.88), (144, 0.99), (147, 0.967), (151, 0.95), (153, 0.98),
    (155, 0.97), (158, 0.953), (161, 0.943), (167, 0.993), (168, 0.983),
    (172.7, 0.967), (175.5, 0.957), (177, 0.943), (178, 0.97), (181, 0.933),
    (184, 0.967), (186, 0.953), (188.5, 0.94), (191, 0.95), (193, 0.971),
    (196, 0.947), (198, 0.86), (198.6, 0.89), (200.6, 0.893), (203, 0.913),
    (205, 0.957), (206, 0.893), (209, 0.91), (211, 0.951), (213, 0.902),
    (171, 0.957), (157, 0.937)]

# ---------------- Zaragoza ----------------
ZARAGOZA_MEAN = [
    0.83, 0.86, 0.94, 0.80, 0.91, 0.76, 0.93, 0.75,
    0.90, 0.75, 0.96, 0.78, 0.99, 0.86, 0.89, 0.92,
    0.87, 0.82, 0.95, 0.93, 0.97, 0.90, 0.94, 0.88,
    0.91, 0.87, 0.92, 0.89, 0.91, 0.86, 0.92, 0.90,
    0.94, 0.91, 0.96, 0.92, 0.95, 0.91, 0.93, 0.95,
    0.92, 0.94, 0.93, 0.95, 0.92, 0.94, 0.95, 0.93,
    0.95, 0.91, 0.92, 0.90, 0.93, 0.91, 0.93, 0.89,
    0.94, 0.90, 0.92, 0.88, 0.92, 0.87, 0.91, 0.85,
    0.92, 0.88, 0.90, 0.86, 0.91, 0.88, 0.92, 0.86,
    0.90, 0.85, 0.93, 0.87, 0.96, 0.84, 0.89, 0.86,
    0.82, 0.89, 0.85, 0.87, 0.85, 0.99, 0.92, 0.90,
    0.79, 0.88, 0.74, 0.92]
ZARAGOZA_MEAN_MID = [
    0.81, 0.89, 0.84, 0.87, 0.83, 0.86, 0.82, 0.84,
    0.80, 0.86, 0.85, 0.90, 0.90, 0.91, 0.86, 0.86,
    0.90, 0.88, 0.89, 0.90, 0.92, 0.93, 0.90, 0.93,
    0.88, 0.91, 0.88, 0.93, 0.88, 0.90, 0.88, 0.92,
    0.90, 0.93, 0.93, 0.93, 0.93, 0.94, 0.92, 0.93,
    0.95, 0.92, 0.94, 0.93, 0.95, 0.93, 0.93, 0.95,
    0.92, 0.93, 0.91, 0.92, 0.91, 0.92, 0.91, 0.91,
    0.92, 0.91, 0.89, 0.90, 0.89, 0.90, 0.88, 0.89,
    0.90, 0.89, 0.88, 0.89, 0.90, 0.90, 0.88, 0.88,
    0.87, 0.89, 0.89, 0.91, 0.88, 0.87, 0.85, 0.84,
    0.86, 0.86, 0.87, 0.84, 0.91, 0.94, 0.88, 0.86,
    0.83, 0.80, 0.82]
ZARAGOZA_LO = [
    0.76, 0.75, 0.85, 0.74, 0.82, 0.74, 0.84, 0.74,
    0.80, 0.74, 0.87, 0.74, 0.90, 0.78, 0.82, 0.84,
    0.80, 0.74, 0.86, 0.85, 0.89, 0.82, 0.86, 0.80,
    0.83, 0.79, 0.84, 0.81, 0.83, 0.78, 0.84, 0.82,
    0.87, 0.84, 0.90, 0.86, 0.89, 0.85, 0.88, 0.90,
    0.87, 0.89, 0.88, 0.90, 0.87, 0.89, 0.90, 0.88,
    0.90, 0.86, 0.87, 0.84, 0.88, 0.85, 0.87, 0.80,
    0.88, 0.84, 0.86, 0.81, 0.86, 0.80, 0.85, 0.78,
    0.86, 0.81, 0.84, 0.79, 0.85, 0.81, 0.86, 0.79,
    0.84, 0.78, 0.87, 0.80, 0.90, 0.76, 0.82, 0.78,
    0.75, 0.82, 0.77, 0.80, 0.77, 0.92, 0.84, 0.82,
    0.74, 0.80, 0.74, 0.85]
ZARAGOZA_HI = [
    0.88, 0.92, 0.99, 0.88, 0.97, 0.84, 0.99, 0.83,
    0.96, 0.84, 1.0, 0.86, 1.0, 0.93, 0.95, 0.97,
    0.93, 0.89, 0.99, 0.97, 1.0, 0.95, 0.98, 0.93,
    0.96, 0.93, 0.97, 0.94, 0.96, 0.92, 0.97, 0.95,
    0.98, 0.96, 0.99, 0.96, 0.98, 0.95, 0.97, 0.98,
    0.96, 0.97, 0.96, 0.98, 0.96, 0.97, 0.98, 0.96,
    0.98, 0.95, 0.96, 0.95, 0.97, 0.96, 0.97, 0.94,
    0.98, 0.95, 0.97, 0.94, 0.97, 0.93, 0.96, 0.92,
    0.97, 0.94, 0.96, 0.93, 0.96, 0.94, 0.97, 0.92,
    0.96, 0.92, 0.98, 0.93, 1.0, 0.91, 0.95, 0.93,
    0.89, 0.95, 0.92, 0.94, 0.92, 1.0, 0.97, 0.96,
    0.87, 0.95, 0.84, 0.96]
ZARAGOZA_RED = [
    (75, 0.963), (77.7, 0.913), (83, 0.978), (87, 0.957), (89, 0.953),
    (96, 0.943), (100, 0.933), (105.5, 0.948), (111, 0.986), (116, 0.995),
    (119, 0.95), (121.7, 0.993), (122.6, 0.927), (124.5, 0.985), (126, 0.98),
    (126.5, 0.935), (128, 0.989), (130, 0.993), (134.5, 0.75), (126, 0.92)]
ZARAGOZA_ORANGE = [
    (144, 0.983), (152, 0.995), (154, 0.987), (156, 0.92), (157, 0.873),
    (159.5, 0.907), (150, 0.953), (164, 0.917), (167, 0.89), (173, 0.957),
    (176, 0.99), (180, 0.96), (181, 0.967), (184, 0.997), (185.6, 0.937),
    (187, 0.903), (188, 0.93), (192.7, 0.963), (195.5, 0.907), (197, 0.977),
    (198, 0.967), (200, 0.97), (202.6, 0.95), (211, 0.963), (210, 0.92),
    (177, 0.933)]

# Axis ranges and tick marks for each station
TICKS_065 = [0.65, 0.70, 0.75, 0.80, 0.85, 0.90, 0.95, 1.00]
TICKS_070 = [0.70, 0.75, 0.80, 0.85, 0.90, 0.95, 1.00]
TICKS_075 = [0.75, 0.80, 0.85, 0.90, 0.95, 1.00]
TICKS_085 = [0.85, 0.90, 0.95, 1.00]
TICKS_060 = [0.6, 0.7, 0.8, 0.9, 1.0]

PANELS = [
    ("Badajoz", BADAJOZ_MEAN, BADAJOZ_MEAN_MID, BADAJOZ_LO, BADAJOZ_HI,
     BADAJOZ_RED, BADAJOZ_ORANGE, (0.65, 1.0), TICKS_065, {0.65: "0.65", 0.85: "0.85"}),
    ("Barcelona", BARCELONA_MEAN, BARCELONA_MEAN_MID, BARCELONA_LO, BARCELONA_HI,
     BARCELONA_RED, BARCELONA_ORANGE, (0.85, 1.0), TICKS_085, {0.85: "0.85", 0.95: "0.95"}),
    ("Burjassot", BURJASSOT_MEAN, BURJASSOT_MEAN_MID, BURJASSOT_LO, BURJASSOT_HI,
     BURJASSOT_RED, BURJASSOT_ORANGE, (0.70, 1.0), TICKS_070, {0.70: "0.70", 0.90: "0.90"}),
    ("La Coruña", CORUNA_MEAN, CORUNA_MEAN_MID, CORUNA_LO, CORUNA_HI,
     CORUNA_RED, CORUNA_ORANGE, (0.65, 1.0), TICKS_065, {0.65: "0.65", 0.85: "0.85"}),
    ("Granada", GRANADA_MEAN, GRANADA_MEAN_MID, GRANADA_LO, GRANADA_HI,
     GRANADA_RED, GRANADA_ORANGE, (0.65, 1.0), TICKS_065, {0.65: "0.65", 0.85: "0.85"}),
    ("Madrid", MADRID_MEAN, MADRID_MEAN_MID, MADRID_LO, MADRID_HI,
     MADRID_RED, MADRID_ORANGE, (0.60, 1.0), TICKS_060, {0.6: "0.6", 0.8: "0.8", 1.0: "1.0"}),
    ("Murcia", MURCIA_MEAN, MURCIA_MEAN_MID, MURCIA_LO, MURCIA_HI,
     MURCIA_RED, MURCIA_ORANGE, (0.70, 1.0), TICKS_070, {0.70: "0.70", 0.90: "0.90"}),
    ("Palencia", PALENCIA_MEAN, PALENCIA_MEAN_MID, PALENCIA_LO, PALENCIA_HI,
     PALENCIA_RED, PALENCIA_ORANGE, (0.70, 1.0), TICKS_070, {0.70: "0.70", 0.90: "0.90"}),
    ("Valladolid", VALLADOLID_MEAN, VALLADOLID_MEAN_MID, VALLADOLID_LO, VALLADOLID_HI,
     VALLADOLID_RED, VALLADOLID_ORANGE, (0.75, 1.0), TICKS_075, {0.75: "0.75", 0.90: "0.90"}),
    ("Zaragoza", ZARAGOZA_MEAN, ZARAGOZA_MEAN_MID, ZARAGOZA_LO, ZARAGOZA_HI,
     ZARAGOZA_RED, ZARAGOZA_ORANGE, (0.75, 1.0), TICKS_075, {0.75: "0.75", 0.90: "0.90"}),
]

# ---------------- layout (pixels) ----------------
W, H = 1211, 1318
COL_LEFT = [66, 687]
ROW_TOP = [107, 361, 616, 871, 1125]
BOX_W, BOX_H = 532, 134

fig = plt.figure(figsize=(W / 100, H / 100), dpi=100)
fig.text(627 / W, 1 - 30 / H, "SSA", ha="center", va="center", fontsize=27)

for k, (name, mean, mean_mid, lo, hi, red, orange,
        (ymin, ymax), yticks, ylabels) in enumerate(PANELS):
    row, col = divmod(k, 2)
    ax = fig.add_axes([COL_LEFT[col] / W, 1 - (ROW_TOP[row] + BOX_H) / H,
                       BOX_W / W, BOX_H / H])

    # line samples merged in day order
    pts = sorted(zip(DAY + DAY_MID, mean + mean_mid))
    line_x = [p[0] for p in pts]
    line_y = [p[1] for p in pts]

    ax.fill_between(DAY, lo, hi, color=BAND_COLOR, linewidth=0, zorder=1)
    ax.plot(line_x, line_y, color="black", linewidth=1.8, zorder=2)
    rx, ry = zip(*red)
    ox, oy = zip(*orange)
    ax.scatter(rx, ry, s=22, color=RED, linewidths=0, zorder=3)
    ax.scatter(ox, oy, s=22, color=ORANGE, linewidths=0, zorder=3)

    pad_y = 0.04 * (ymax - ymin)
    ax.set_ylim(ymin - pad_y, ymax + pad_y)
    ax.set_xlim(-13.6, 380.5)

    ax.set_xticks(MONTH_TICKS)
    ax.set_xticklabels(MONTH_LABELS)
    ax.set_yticks(yticks)
    ax.set_yticklabels([ylabels.get(round(t, 2), "") for t in yticks],
                       rotation=90, va="center")

    ax.tick_params(axis="both", direction="out", length=13, width=1.5,
                   labelsize=17, color="black")
    ax.tick_params(axis="x", pad=15)
    ax.tick_params(axis="y", pad=6)
    for sp in ax.spines.values():
        sp.set_linewidth(1.5)
    ax.set_title(name, fontsize=17, fontweight="bold", pad=15)

fig.savefig("out.png", dpi=100)
